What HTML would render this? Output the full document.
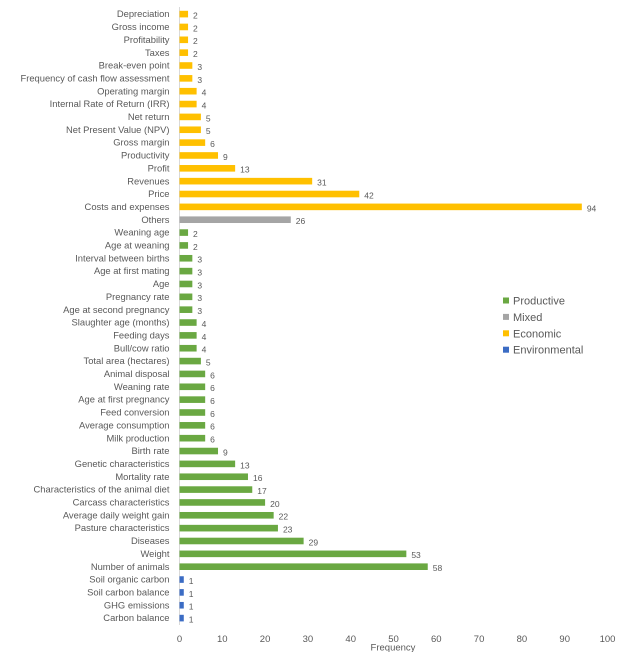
<!DOCTYPE html>
<html>
<head>
<meta charset="utf-8">
<title>Frequency of indicators</title>
<style>
html,body{margin:0;padding:0;background:#fff;}
body{width:627px;height:652px;overflow:hidden;}
svg{display:block;}
text{font-family:"Liberation Sans",sans-serif;fill:#595959;filter:blur(0.25px);}
</style>
</head>
<body>
<svg id="chart" width="627" height="652" viewBox="0 0 627 652" xmlns="http://www.w3.org/2000/svg"></svg>
<script>
var categories = ["Depreciation","Gross income","Profitability","Taxes","Break-even point","Frequency of cash flow assessment","Operating margin","Internal Rate of Return (IRR)","Net return","Net Present Value (NPV)","Gross margin","Productivity","Profit","Revenues","Price","Costs and expenses","Others","Weaning age","Age at weaning","Interval between births","Age at first mating","Age","Pregnancy rate","Age at second pregnancy","Slaughter age (months)","Feeding days","Bull/cow ratio","Total area (hectares)","Animal disposal","Weaning rate","Age at first pregnancy","Feed conversion","Average consumption","Milk production","Birth rate","Genetic characteristics","Mortality rate","Characteristics of the animal diet","Carcass characteristics","Average daily weight gain","Pasture characteristics","Diseases","Weight","Number of animals","Soil organic carbon","Soil carbon balance","GHG emissions","Carbon balance"];
var frequencies = [2,2,2,2,3,3,4,4,5,5,6,9,13,31,42,94,26,2,2,3,3,3,3,3,4,4,4,5,6,6,6,6,6,6,9,13,16,17,20,22,23,29,53,58,1,1,1,1];
var groups = ["Economic","Economic","Economic","Economic","Economic","Economic","Economic","Economic","Economic","Economic","Economic","Economic","Economic","Economic","Economic","Economic","Mixed","Productive","Productive","Productive","Productive","Productive","Productive","Productive","Productive","Productive","Productive","Productive","Productive","Productive","Productive","Productive","Productive","Productive","Productive","Productive","Productive","Productive","Productive","Productive","Productive","Productive","Productive","Productive","Environmental","Environmental","Environmental","Environmental"];
var xTicks = [0,10,20,30,40,50,60,70,80,90,100];
var legendLabels = ["Productive","Mixed","Economic","Environmental"];

var groupColor = {Productive:"#6aa842",Mixed:"#a5a5a5",Economic:"#ffc000",Environmental:"#3b6cc4"};
var svg = document.getElementById("chart");
var NS = "http://www.w3.org/2000/svg";
function xScale(v){ return 179.5 + v * 4.28; }
function yScale(i){ return 14 + i * (604 / (categories.length - 1)); }
function slug(s){ return s.toLowerCase().replace(/[^a-z0-9]+/g,"-").replace(/^-|-$/g,""); }
function mk(tag, attrs, txt){
  var el = document.createElementNS(NS, tag);
  for (var k in attrs) el.setAttribute(k, attrs[k]);
  if (txt !== undefined) el.textContent = txt;
  svg.appendChild(el);
  return el;
}
var axis = mk("line",{x1:xScale(0),x2:xScale(0),y1:7,y2:625,stroke:"#d9d9d9","stroke-width":1});



categories.forEach(function(c,i){
  var y = yScale(i), v = frequencies[i], s = slug(c);
  var lab = mk("text",{x:169.5,y:y+3.2,"text-anchor":"end","font-size":9.4},c);
  
  
  var bar = mk("rect",{x:xScale(0),y:y-3.2,width:xScale(v)-xScale(0),height:6.6,fill:groupColor[groups[i]]});
  
  
  var val = mk("text",{x:xScale(v)+5,y:y+4.5,"font-size":8.5},String(v));
  
  
});

xTicks.forEach(function(t){
  var tk = mk("text",{x:xScale(t),y:642,"text-anchor":"middle","font-size":9.5},String(t));
  
  
});

var xTitle = mk("text",{x:393,y:650.5,"text-anchor":"middle","font-size":9.5},"Frequency");



legendLabels.forEach(function(l,i){
  var y = 300.5 + i * 16.4;
  var sw = mk("rect",{x:503,y:y-3,width:6,height:6,fill:groupColor[l]});
  
  
  var tx = mk("text",{x:513,y:y+4,"font-size":11},l);
  
  
});
</script>
</body>
</html>
